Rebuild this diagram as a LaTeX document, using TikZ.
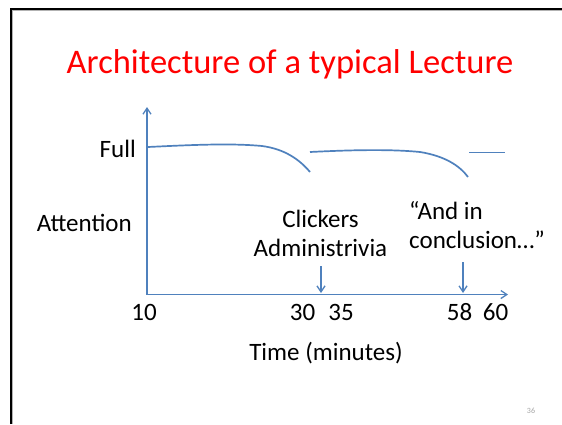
\documentclass[tikz,border=0pt]{standalone}
\usepackage{fontspec}
\setmainfont{Carlito}
\usetikzlibrary{arrows.meta}
\definecolor{curveblue}{RGB}{79,129,189}
\definecolor{titlered}{RGB}{255,0,0}
\begin{document}
\begin{tikzpicture}[x=1pt,y=-1pt,
  axis/.style={draw=curveblue,line width=1.7pt,-{Straight Barb[length=6pt,width=8pt,line width=1.3pt]}},
  trend/.style={draw=curveblue,line width=1.7pt},
  marker/.style={draw=curveblue,line width=1.7pt,-{Straight Barb[length=6pt,width=8pt,line width=1.3pt]}},
  lbl/.style={inner sep=0pt,anchor=base,font=\fontsize{25}{29}\selectfont},
  multi/.style={lbl,align=center}]
\useasboundingbox (0,0) rectangle (562,424);
\fill[white] (0,0) rectangle (562,424);
% slide frame
\draw[gray!60,line width=1pt] (12.8,424) -- (12.8,10.8) -- (562,10.8);
\draw[black,line width=2.6pt] (11,424) -- (11,9) -- (562,9);

% title
\node[inner sep=0pt,anchor=base,text=titlered,font=\fontsize{34.5}{40}\selectfont] (title) at (290,73) {Architecture of a typical Lecture};

% axes
\coordinate (origin) at (147,294.5);
\coordinate (ytop) at (147,107);
\coordinate (xend) at (508,294.5);
\draw[axis] (origin) -- (ytop);
\draw[axis] (origin) -- (xend);

% attention curves
\draw[trend] (148,147) .. controls (190,145) and (230,143) .. (262,146)
  .. controls (285,149) and (300,160) .. (310,172);
\draw[trend] (310,152) .. controls (350,150) and (390,149) .. (420,152)
  .. controls (445,156) and (460,166) .. (468,177);
\draw[trend] (469,152.5) -- (505,152.5);

% axis labels
\node[lbl,anchor=base east] (full) at (136,157) {Full};
\node[lbl,anchor=base east] (attention) at (132,231) {Attention};
\node[lbl] (t10) at (144,320) {10};
\node[lbl] (t30) at (302.5,320) {30};
\node[lbl] (t35) at (341,320) {35};
\node[lbl] (t58) at (459.5,320) {58};
\node[lbl] (t60) at (495.5,320) {60};
\node[lbl] (xlabel) at (326,360) {Time (minutes)};

% event annotations
\node[lbl] (clickers) at (320.5,227) {Clickers};
\node[lbl] (admin) at (320.5,256) {Administrivia};
\node[lbl,anchor=base west] (andin) at (409,219) {“And in};
\node[lbl,anchor=base west] (concl) at (409,248) {conclusion…”};
\coordinate (m1top) at (321,266);
\coordinate (m1bot) at (321,293);
\coordinate (m2top) at (463,262);
\coordinate (m2bot) at (463,293);
\draw[marker] (m1top) -- (m1bot);
\draw[marker] (m2top) -- (m2bot);

% slide number
\node[inner sep=0pt,anchor=base,text=gray!70,font=\fontsize{8}{9}\selectfont] (pagenum) at (531,413) {36};
\end{tikzpicture}
\end{document}
